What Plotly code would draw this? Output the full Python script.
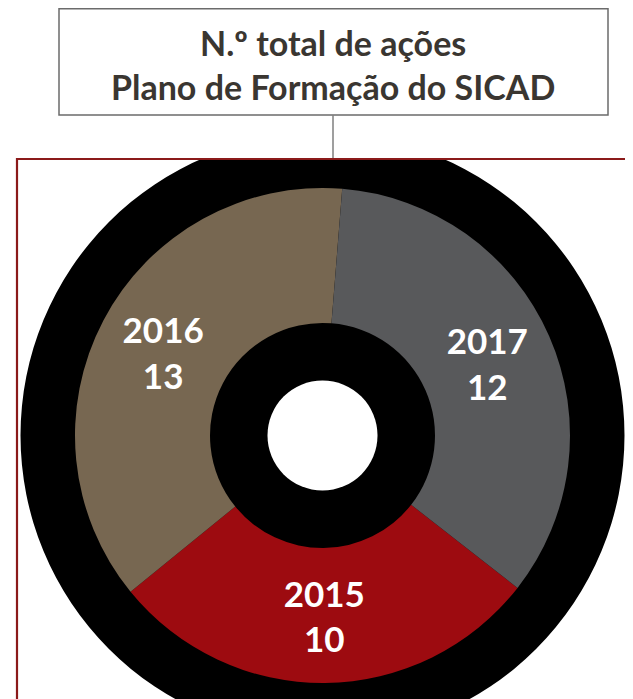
import plotly.graph_objects as go

# ---- data ----
years = ["2015", "2016", "2017"]
actions = [10, 13, 12]
slice_colors = ["#9D0B10", "#776751", "#58595B"]
title_lines = ["N.º total de ações", "Plano de Formação do SICAD"]

W, H = 633, 699
OFF = 8  # page body margin


def px(x):
    return (x - OFF) / W


def py(y):
    return 1 - (y - OFF) / H


cx, cy = 322.5, 435.5
r_outer_black = 302
r_slices = 247.5
r_inner_black = 112.5
r_hole = 55

fig = go.Figure()

fig.add_trace(go.Pie(
    labels=years,
    values=actions,
    sort=False,
    direction="clockwise",
    rotation=128,
    hole=r_inner_black / r_slices,
    marker=dict(colors=slice_colors, line=dict(width=0)),
    texttemplate="%{label}<br>%{value}",
    textposition="inside",
    insidetextorientation="horizontal",
    textfont=dict(family="Lato", size=35, color="white", weight="bold"),
    hoverinfo="skip",
    showlegend=False,
    domain=dict(x=[px(cx - r_slices), px(cx + r_slices)],
                y=[py(cy + r_slices), py(cy - r_slices)]),
))


def circle(r, color, layer="below"):
    return dict(type="circle", xref="paper", yref="paper",
                x0=px(cx - r), x1=px(cx + r), y0=py(cy + r), y1=py(cy - r),
                fillcolor=color, line=dict(width=0), layer=layer)


shapes = [
    circle(r_outer_black, "black"),
    # clip the outer ring above the frame
    dict(type="rect", xref="paper", yref="paper", x0=-0.1, x1=1.1, y0=py(158), y1=1.1,
         fillcolor="white", line=dict(width=0), layer="below"),
    circle(r_hole, "white"),
    # title box
    dict(type="rect", xref="paper", yref="paper", x0=px(59), x1=px(608), y0=py(115), y1=py(8.8),
         fillcolor="white", line=dict(color="#6b6b6b", width=1.5), layer="below"),
    # connector
    dict(type="line", xref="paper", yref="paper", x0=px(333), x1=px(333), y0=py(159), y1=py(115),
         line=dict(color="#7f7f7f", width=1.5), layer="below"),
    # dark red frame
    dict(type="rect", xref="paper", yref="paper", x0=px(17), x1=px(680), y0=py(740), y1=py(159),
         fillcolor="rgba(0,0,0,0)", line=dict(color="#8B1A1A", width=2.2), layer="above"),
]

fig.add_annotation(
    x=px(333), y=py(64), xref="paper", yref="paper",
    text="<b>" + "<br>".join(title_lines) + "</b>",
    showarrow=False, xanchor="center", yanchor="middle",
    font=dict(family="Lato", size=34, color="#3a3631"),
)

fig.update_layout(
    width=W, height=H,
    margin=dict(l=0, r=0, t=0, b=0),
    paper_bgcolor="white",
    plot_bgcolor="white",
    shapes=shapes,
    showlegend=False,
)

fig.write_html(
    "out.html",
    post_script="document.documentElement.style.overflow='hidden';"
                "document.body.style.overflow='hidden';",
)
